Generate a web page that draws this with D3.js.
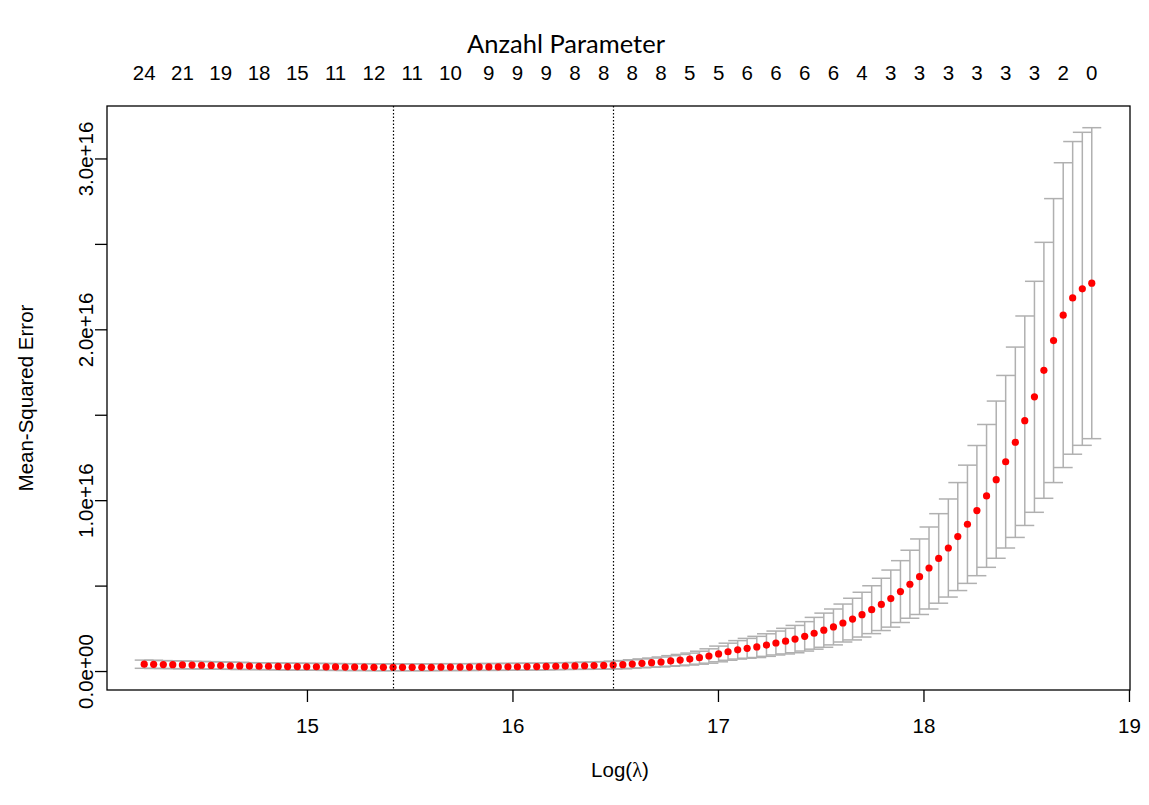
<!DOCTYPE html>
<html>
<head>
<meta charset="utf-8">
<script src="https://cdn.jsdelivr.net/npm/d3@7"></script>
<style>
  body { margin: 0; background: #fff; }
  svg { display: block; }
</style>
</head>
<body>
<script>
// log(lambda) of the 100 fitted lambdas (ascending)
const logLambda = [
  14.208, 14.254, 14.301, 14.347, 14.394, 14.441, 14.487, 14.534, 14.580, 14.627,
  14.673, 14.720, 14.767, 14.813, 14.860, 14.906, 14.953, 14.999, 15.046, 15.093,
  15.139, 15.186, 15.232, 15.279, 15.326, 15.372, 15.419, 15.465, 15.512, 15.559,
  15.605, 15.652, 15.698, 15.745, 15.791, 15.838, 15.885, 15.931, 15.978, 16.024,
  16.071, 16.118, 16.164, 16.211, 16.257, 16.304, 16.351, 16.397, 16.444, 16.490,
  16.537, 16.583, 16.630, 16.677, 16.723, 16.770, 16.816, 16.863, 16.910, 16.956,
  17.003, 17.049, 17.096, 17.142, 17.189, 17.236, 17.282, 17.329, 17.375, 17.422,
  17.468, 17.515, 17.562, 17.608, 17.655, 17.701, 17.748, 17.795, 17.841, 17.888,
  17.934, 17.981, 18.027, 18.074, 18.121, 18.167, 18.214, 18.260, 18.307, 18.354,
  18.400, 18.447, 18.493, 18.540, 18.586, 18.633, 18.680, 18.726, 18.773, 18.819
];

// mean cross-validated error, in units of 1e16
const mse = [
  0.040, 0.039, 0.038, 0.037, 0.036, 0.035, 0.034, 0.033, 0.032, 0.031,
  0.030, 0.029, 0.028, 0.028, 0.027, 0.026, 0.026, 0.025, 0.025, 0.024,
  0.024, 0.023, 0.023, 0.023, 0.022, 0.022, 0.022, 0.022, 0.022, 0.022,
  0.022, 0.023, 0.023, 0.023, 0.023, 0.024, 0.024, 0.024, 0.025, 0.025,
  0.026, 0.026, 0.027, 0.028, 0.029, 0.030, 0.031, 0.032, 0.033, 0.035,
  0.037, 0.041, 0.045, 0.049, 0.053, 0.059, 0.064, 0.070, 0.078, 0.088,
  0.100, 0.113, 0.124, 0.133, 0.141, 0.152, 0.164, 0.175, 0.187, 0.203,
  0.221, 0.239, 0.258, 0.281, 0.304, 0.330, 0.359, 0.390, 0.424, 0.465,
  0.508, 0.552, 0.603, 0.659, 0.720, 0.787, 0.859, 0.939, 1.025, 1.120,
  1.225, 1.339, 1.465, 1.605, 1.760, 1.934, 2.083, 2.184, 2.237, 2.270
];

// standard error of the mean, units of 1e16
const mseSd = [
  0.024, 0.024, 0.023, 0.023, 0.023, 0.022, 0.022, 0.022, 0.021, 0.021,
  0.021, 0.020, 0.020, 0.020, 0.020, 0.020, 0.020, 0.020, 0.020, 0.020,
  0.020, 0.020, 0.020, 0.020, 0.020, 0.020, 0.020, 0.020, 0.020, 0.020,
  0.020, 0.020, 0.020, 0.020, 0.020, 0.020, 0.020, 0.020, 0.020, 0.020,
  0.020, 0.020, 0.020, 0.020, 0.020, 0.020, 0.021, 0.021, 0.022, 0.023,
  0.024, 0.025, 0.026, 0.027, 0.029, 0.031, 0.033, 0.035, 0.038, 0.042,
  0.046, 0.050, 0.054, 0.058, 0.062, 0.066, 0.070, 0.075, 0.080, 0.086,
  0.093, 0.100, 0.105, 0.111, 0.122, 0.131, 0.140, 0.153, 0.167, 0.181,
  0.199, 0.221, 0.240, 0.262, 0.287, 0.316, 0.346, 0.381, 0.418, 0.460,
  0.505, 0.557, 0.613, 0.676, 0.749, 0.831, 0.892, 0.915, 0.916, 0.910
];

// number of non-zero coefficients shown on the top axis
const nzLabels = [24, 21, 19, 18, 15, 11, 12, 11, 10, 9, 9, 9, 8, 8, 8, 8,
  5, 5, 6, 6, 6, 6, 4, 3, 3, 3, 3, 3, 3, 2, 0];
const nzIndex = [0, 4, 8, 12, 16, 20, 24, 28, 32, 36, 39, 42, 45, 48, 51, 54,
  57, 60, 63, 66, 69, 72, 75, 78, 81, 84, 87, 90, 93, 96, 99];

const lambdaMin = 15.419;
const lambda1se = 16.490;

const xTicks = [15, 16, 17, 18, 19];
const yTicks = [0, 0.5, 1, 1.5, 2, 2.5, 3];
const yTickLabels = { 0: "0.0e+00", 1: "1.0e+16", 2: "2.0e+16", 3: "3.0e+16" };

const W = 1149, H = 805;
const box = { left: 107, right: 1130, top: 106, bottom: 690 };
const arial = "'Liberation Sans', Arial, sans-serif";
const fs = "20.5px";

const svg = d3.select("body").append("svg")
    .attr("width", W)
    .attr("height", H)
    .style("font-family", arial);

const x = d3.scaleLinear().domain([14.027, 19.005]).range([box.left, box.right]);
const y = d3.scaleLinear().domain([-0.111, 3.307]).range([box.bottom, box.top]);

const data = logLambda.map((l, i) => ({
    l: l, m: mse[i], up: mse[i] + mseSd[i], lo: mse[i] - mseSd[i]
}));

// error bars
const barw = (d3.max(logLambda) - d3.min(logLambda)) * 0.01;
const bars = svg.append("g")
    .attr("stroke", "#b0b0b0")
    .attr("stroke-width", 1.5)
    .attr("fill", "none");

bars.selectAll("line.v").data(data).enter().append("line")
    .attr("x1", d => x(d.l)).attr("x2", d => x(d.l))
    .attr("y1", d => y(d.up)).attr("y2", d => y(d.lo));
bars.selectAll("line.u").data(data).enter().append("line")
    .attr("x1", d => x(d.l - barw)).attr("x2", d => x(d.l + barw))
    .attr("y1", d => y(d.up)).attr("y2", d => y(d.up));
bars.selectAll("line.l").data(data).enter().append("line")
    .attr("x1", d => x(d.l - barw)).attr("x2", d => x(d.l + barw))
    .attr("y1", d => y(d.lo)).attr("y2", d => y(d.lo));

// red points
svg.append("g").selectAll("circle").data(data).enter().append("circle")
    .attr("cx", d => x(d.l))
    .attr("cy", d => y(d.m))
    .attr("r", 3.6)
    .attr("fill", "#ff0000");

// dotted lines at lambda.min and lambda.1se
svg.append("g").selectAll("line").data([lambdaMin, lambda1se]).enter().append("line")
    .attr("x1", d => Math.round(x(d)) + 0.5).attr("x2", d => Math.round(x(d)) + 0.5)
    .attr("y1", box.top).attr("y2", box.bottom)
    .attr("stroke", "#000")
    .attr("stroke-width", 1.2)
    .attr("stroke-dasharray", "1.5,2");

// plot box
svg.append("rect")
    .attr("x", box.left).attr("y", box.top)
    .attr("width", box.right - box.left).attr("height", box.bottom - box.top)
    .attr("fill", "none").attr("stroke", "#000").attr("stroke-width", 1.3);

// bottom axis
const xAxis = svg.append("g")
    .attr("transform", "translate(0," + box.bottom + ")")
    .call(d3.axisBottom(x).tickValues(xTicks).tickSize(12).tickFormat(d3.format("d")));
xAxis.select(".domain").remove();
xAxis.selectAll("line").attr("stroke-width", 1.3);
xAxis.selectAll("text")
    .attr("y", 43).attr("dy", 0)
    .style("font-size", fs).style("font-family", arial).attr("fill", "#000");

// left axis
const yAxis = svg.append("g")
    .attr("transform", "translate(" + box.left + ",0)")
    .call(d3.axisLeft(y).tickValues(yTicks).tickSize(12).tickFormat(d => yTickLabels[d] || ""));
yAxis.select(".domain").remove();
yAxis.selectAll("line").attr("stroke-width", 1.3);
yAxis.selectAll("text")
    .attr("transform", "rotate(-90)")
    .attr("x", 0).attr("y", -14).attr("dy", 0)
    .style("text-anchor", "middle")
    .style("font-size", fs).style("font-family", arial).attr("fill", "#000");

// top labels: number of parameters
svg.append("g").selectAll("text").data(nzIndex).enter().append("text")
    .attr("x", d => x(logLambda[d]))
    .attr("y", 80)
    .attr("text-anchor", "middle")
    .style("font-size", fs)
    .text((d, i) => nzLabels[i]);

svg.append("text")
    .attr("x", 566).attr("y", 53)
    .attr("text-anchor", "middle")
    .style("font-family", "Lato, 'Open Sans', sans-serif")
    .style("font-size", "25.5px")
    .text("Anzahl Parameter");

// axis titles
const xt = svg.append("text")
    .attr("x", 620).attr("y", 777)
    .attr("text-anchor", "middle")
    .style("font-size", fs);
xt.append("tspan").text("Log(");
xt.append("tspan").style("font-family", "'Liberation Serif', serif").text("λ");
xt.append("tspan").text(")");

svg.append("text")
    .attr("transform", "translate(33," + ((box.top + box.bottom) / 2) + ") rotate(-90)")
    .attr("text-anchor", "middle")
    .style("font-size", fs)
    .text("Mean-Squared Error");
</script>
</body>
</html>
